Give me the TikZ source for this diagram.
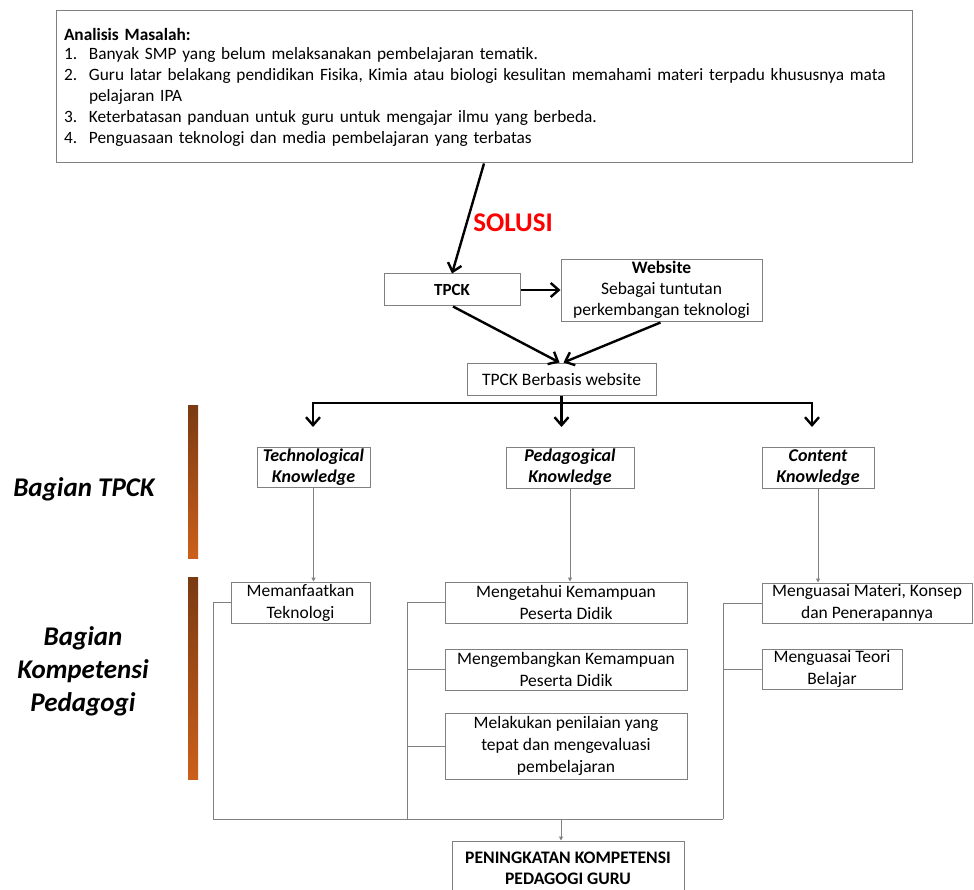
\documentclass[tikz,border=0pt]{standalone}
\usepackage{fontspec}
\setmainfont{Carlito}
\usetikzlibrary{arrows.meta}
\definecolor{linegray}{HTML}{808080}
\definecolor{barTop}{HTML}{7A3A12}
\definecolor{barBot}{HTML}{CC5F1A}
\definecolor{solred}{HTML}{FF0000}
\tikzset{
  box/.style={draw=linegray, line width=1pt, inner sep=0pt, align=center, font=\fontsize{17.5}{22}\selectfont},
  kbox/.style={box, font=\fontsize{18}{21}\selectfont\bfseries\itshape},
  bigarrow/.style={line width=2.4pt, -{Straight Barb[length=8pt,width=14pt]}},
  bigline/.style={line width=2.4pt, line cap=rect},
  thinarrow/.style={draw=linegray, line width=1pt, -{Triangle[length=4pt,width=4pt]}},
  thinline/.style={draw=linegray, line width=1pt},
  sidelabel/.style={font=\fontsize{27}{33}\selectfont\bfseries\itshape, align=center},
  bar/.style={top color=barTop, bottom color=barBot, draw=none},
}
\begin{document}
\begin{tikzpicture}[x=1pt,y=-1pt]
\useasboundingbox (0,0) rectangle (974,890);
\fill[white] (0,0) rectangle (974,890);

% top box
\node[box, minimum width=856pt, minimum height=152pt, text width=840pt, align=left, inner xsep=8pt, font=\fontsize{17.3}{21}\selectfont] (top) at (484,87)
 {\raisebox{-2pt}{\textbf{Analisis Masalah:}}\\
  \makebox[25pt][l]{1.}Banyak SMP yang belum melaksanakan pembelajaran tematik.\\
  \makebox[25pt][l]{2.}Guru latar belakang pendidikan Fisika, Kimia atau biologi kesulitan memahami materi terpadu khususnya mata\\
  \hspace*{25pt}pelajaran IPA\\
  \makebox[25pt][l]{3.}Keterbatasan panduan untuk guru untuk mengajar ilmu yang berbeda.\\
  \makebox[25pt][l]{4.}Penguasaan teknologi dan media pembelajaran yang terbatas};

\node[font=\fontsize{27}{30}\selectfont\bfseries, text=solred] (sol) at (513,223) {SOLUSI};

\node[box, minimum width=136pt, minimum height=32pt, font=\fontsize{17}{21}\selectfont\bfseries] (tpck) at (452,290) {TPCK};
\node[box, minimum width=201pt, minimum height=62pt, font=\fontsize{17.5}{21}\selectfont, text depth=6pt] (web) at (661.5,291) {\textbf{Website}\\Sebagai tuntutan\\perkembangan teknologi};
\node[box, minimum width=189pt, minimum height=32pt] (tbw) at (561.5,379) {TPCK Berbasis website};

\node[kbox, minimum width=113pt, minimum height=40pt] (tk) at (313.5,467) {Technological\\Knowledge};
\node[kbox, minimum width=128pt, minimum height=41pt] (pk) at (570,467.5) {Pedagogical\\Knowledge};
\node[kbox, minimum width=112pt, minimum height=41pt] (ck) at (818,467.5) {Content\\Knowledge};

\node[box, minimum width=139pt, minimum height=41pt] (mem) at (300.5,602.5) {Memanfaatkan\\Teknologi};
\node[box, minimum width=242pt, minimum height=41pt] (kn1) at (566,602.5) {Mengetahui Kemampuan\\Peserta Didik};
\node[box, minimum width=242pt, minimum height=41pt] (kn2) at (566,669.5) {Mengembangkan Kemampuan\\Peserta Didik};
\node[box, minimum width=242pt, minimum height=66pt] (kn3) at (566,746) {Melakukan penilaian yang\\tepat dan mengevaluasi\\pembelajaran};
\node[box, minimum width=210pt, minimum height=40pt] (mat) at (867,603) {Menguasai Materi, Konsep\\dan Penerapannya};
\node[box, minimum width=140pt, minimum height=40pt] (teori) at (832,669) {Menguasai Teori\\Belajar};

\node[box, minimum width=232pt, minimum height=54pt, font=\fontsize{17.6}{21}\selectfont\bfseries] (final) at (568,868) {PENINGKATAN KOMPETENSI\\PEDAGOGI GURU};

% side bars and labels
\fill[bar] (188,405) rectangle (198,558);
\fill[bar] (188,577) rectangle (198,779);
\node[sidelabel] (lab1) at (84,489) {Bagian TPCK};
\node[sidelabel] (lab2) at (83,671) {Bagian\\Kompetensi\\Pedagogi};

% thick connectors
\draw[bigarrow] (top.south) -- (tpck.north);
\draw[bigarrow] (tpck.east) -- (tpck.east -| web.west);
\draw[bigarrow] ([xshift=1pt]tpck.south) -- ([xshift=-2pt]tbw.north);
\draw[bigarrow] ([xshift=-1pt]web.south) -- ([xshift=2pt]tbw.north);
\coordinate (hl) at (313,403);
\coordinate (hr) at (812,403);
\coordinate (ltip) at (313,427);
\coordinate (rtip) at (812,427);
\coordinate (mtip) at (561.5,427);
\draw[bigline] (hl) -- (hr);
\draw[bigarrow] (tbw.south) -- (mtip);
\draw[bigarrow] (hl) -- (ltip);
\draw[bigarrow] (hr) -- (rtip);

% thin connectors
\draw[thinarrow] (tk.south) -- (tk.south |- mem.north);
\draw[thinarrow] (pk.south) -- (pk.south |- kn1.north);
\draw[thinarrow] (ck.south) -- (ck.south |- mat.north);

\coordinate (bl) at (213,819);
\coordinate (bm) at (407,819);
\coordinate (br) at (723,819);
\coordinate (bc) at (561,819);
\draw[thinline] (mem.west) -- (mem.west -| bl) -- (bl);
\draw[thinline] (kn1.west) -- (kn1.west -| bm) -- (bm);
\draw[thinline] (kn2.west) -- (kn2.west -| bm);
\draw[thinline] (kn3.west) -- (kn3.west -| bm);
\draw[thinline] (mat.west) -- (mat.west -| br) -- (br);
\draw[thinline] (teori.west) -- (teori.west -| br);
\draw[thinline] (bl) -- (br);
\draw[thinarrow] (bc) -- (bc |- final.north);
\end{tikzpicture}
\end{document}
